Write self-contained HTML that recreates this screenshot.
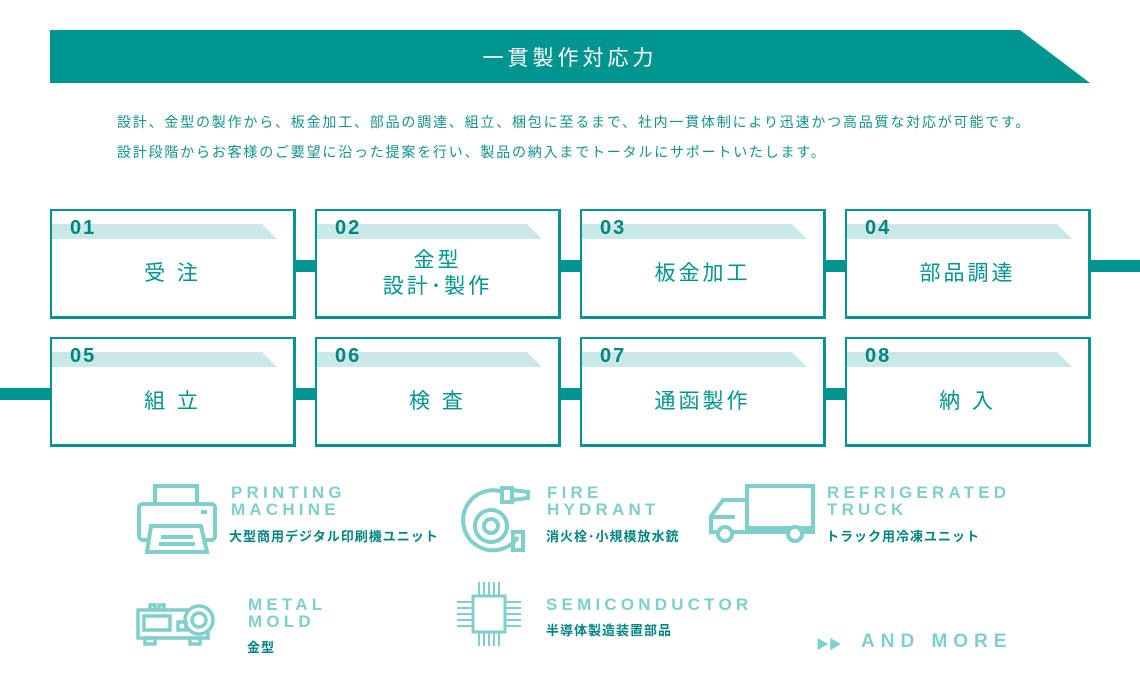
<!DOCTYPE html>
<html><head><meta charset="utf-8"><style>
*{margin:0;padding:0;box-sizing:border-box}
body{width:1140px;height:680px;background:#fff;position:relative;overflow:hidden;font-family:"Liberation Sans","Noto Sans CJK JP",sans-serif;color:#00958f}
.a{position:absolute}
.desc{font-size:14px;color:#13938d;white-space:nowrap;letter-spacing:1.8px}
.box{position:absolute;width:246px;height:110px;border:2px solid #00958f;border-right-width:3px;border-bottom-width:3px;background:#fff}
.band{position:absolute;left:0;top:13px;width:225px;height:15px;background:#c9e8e7;clip-path:polygon(0 0,210px 0,225px 100%,0 100%)}
.num{position:absolute;left:18px;top:6px;font-size:20px;font-weight:bold;color:#00857f;letter-spacing:2px;font-family:"Liberation Sans",sans-serif}
.lbl{position:absolute;left:0;right:0;top:24px;bottom:4px;display:flex;align-items:center;justify-content:center;text-align:center;font-size:21px;letter-spacing:3px;line-height:26px;color:#00958f}
.conn{position:absolute;background:#00958f;height:12px}
.h{position:absolute;font-weight:bold;font-size:17px;line-height:17px;color:#7fcfcb;letter-spacing:4.2px;font-family:"Liberation Sans",sans-serif}
.s{position:absolute;font-size:13px;font-weight:bold;color:#00857f;white-space:nowrap;letter-spacing:1px}
svg{position:absolute}
</style></head><body>
<svg width="1140" height="90" style="left:0;top:0"><polygon points="50,30 1020,30 1090,83 50,83" fill="#00958f"/></svg>
<div class="a" style="left:0;width:1140px;top:42px;text-align:center;color:#fff;font-size:21px;letter-spacing:4px">一貫製作対応力</div>
<div class="a desc" style="left:117px;top:112px">設計、金型の製作から、板金加工、部品の調達、組立、梱包に至るまで、社内一貫体制により迅速かつ高品質な対応が可能です。</div>
<div class="a desc" style="left:117px;top:142px">設計段階からお客様のご要望に沿った提案を行い、製品の納入までトータルにサポートいたします。</div>

<div class="conn" style="left:296px;top:260px;width:20px"></div>
<div class="conn" style="left:561px;top:260px;width:20px"></div>
<div class="conn" style="left:826px;top:260px;width:20px"></div>
<div class="conn" style="left:1091px;top:260px;width:49px"></div>
<div class="conn" style="left:0;top:388px;width:50px"></div>
<div class="conn" style="left:296px;top:388px;width:20px"></div>
<div class="conn" style="left:561px;top:388px;width:20px"></div>
<div class="conn" style="left:826px;top:388px;width:20px"></div>

<div class="box" style="left:50px;top:209px"><div class="band"></div><div class="num">01</div><div class="lbl">受 注</div></div>
<div class="box" style="left:315px;top:209px"><div class="band"></div><div class="num">02</div><div class="lbl">金型<br>設計･製作</div></div>
<div class="box" style="left:580px;top:209px"><div class="band"></div><div class="num">03</div><div class="lbl">板金加工</div></div>
<div class="box" style="left:845px;top:209px"><div class="band"></div><div class="num">04</div><div class="lbl">部品調達</div></div>
<div class="box" style="left:50px;top:337px"><div class="band"></div><div class="num">05</div><div class="lbl">組 立</div></div>
<div class="box" style="left:315px;top:337px"><div class="band"></div><div class="num">06</div><div class="lbl">検 査</div></div>
<div class="box" style="left:580px;top:337px"><div class="band"></div><div class="num">07</div><div class="lbl">通函製作</div></div>
<div class="box" style="left:845px;top:337px"><div class="band"></div><div class="num">08</div><div class="lbl">納 入</div></div>

<!-- printer -->
<svg width="90" height="80" style="left:135px;top:482px" fill="none" stroke="#7fcfcb" stroke-width="4">
<rect x="20" y="4" width="42" height="18"/><rect x="4" y="22" width="76" height="36" rx="4"/><polygon points="16,44 66,44 72,70 12,70" fill="#fff"/><line x1="26" y1="55" x2="58" y2="55"/><line x1="24" y1="62" x2="60" y2="62"/><line x1="66" y1="30" x2="72" y2="30"/></svg>
<div class="h" style="left:231px;top:484px">PRINTING<br>MACHINE</div>
<div class="s" style="left:229px;top:526px">大型商用デジタル印刷機ユニット</div>
<!-- hydrant -->
<svg width="80" height="80" style="left:458px;top:482px" fill="none" stroke="#7fcfcb" stroke-width="4">
<path d="M45,10 A30,30 0 1 0 60,55"/><circle cx="33" cy="44" r="16"/><circle cx="33" cy="44" r="7"/><rect x="44" y="6" width="10" height="14"/><polygon points="54,8 70,10 70,16 54,18"/><rect x="55" y="50" width="10" height="18"/></svg>
<div class="h" style="left:547px;top:484px">FIRE<br>HYDRANT</div>
<div class="s" style="left:546px;top:526px">消火栓･小規模放水銃</div>
<!-- truck -->
<svg width="115" height="65" style="left:705px;top:484px" fill="none" stroke="#7fcfcb" stroke-width="4">
<rect x="42" y="2" width="66" height="42"/><path d="M42,16 H18 L6,32 V48 H42"/><line x1="6" y1="33" x2="30" y2="33"/><line x1="42" y1="48" x2="110" y2="48"/><circle cx="20" cy="50" r="7" fill="#fff"/><circle cx="90" cy="50" r="7" fill="#fff"/></svg>
<div class="h" style="left:827px;top:484px">REFRIGERATED<br>TRUCK</div>
<div class="s" style="left:826px;top:526px">トラック用冷凍ユニット</div>
<!-- mold -->
<svg width="85" height="50" style="left:135px;top:598px" fill="none" stroke="#7fcfcb" stroke-width="3.5">
<rect x="3" y="12" width="70" height="28"/><rect x="9" y="18" width="26" height="14"/><circle cx="64" cy="22" r="14" fill="#fff"/><circle cx="64" cy="22" r="7"/><path d="M15,12 v-5 h5 v5 M24,12 v-5 h5 v5"/><rect x="43" y="24" width="8" height="8"/><rect x="10" y="40" width="10" height="6"/><rect x="55" y="40" width="10" height="6"/></svg>
<div class="h" style="left:248px;top:596px">METAL<br>MOLD</div>
<div class="s" style="left:247px;top:637px">金型</div>
<!-- chip -->
<svg width="70" height="70" style="left:455px;top:580px" fill="none" stroke="#7fcfcb" stroke-width="2">
<rect x="18" y="16" width="32" height="36" stroke-width="3"/>
<path d="M24,2v14M29,2v14M34,2v14M39,2v14M44,2v14M24,52v14M29,52v14M34,52v14M39,52v14M44,52v14M2,22h16M2,28h16M2,34h16M2,40h16M2,46h16M50,22h16M50,28h16M50,34h16M50,40h16M50,46h16"/></svg>
<div class="h" style="left:546px;top:596px">SEMICONDUCTOR</div>
<div class="s" style="left:546px;top:620px">半導体製造装置部品</div>
<div class="a" style="left:816px;top:634px;color:#7fcfcb;font-size:13px;letter-spacing:-2px">▶ ▶</div>
<div class="h" style="left:861px;top:633px;font-size:19px;letter-spacing:6px">AND MORE</div>
</body></html>
